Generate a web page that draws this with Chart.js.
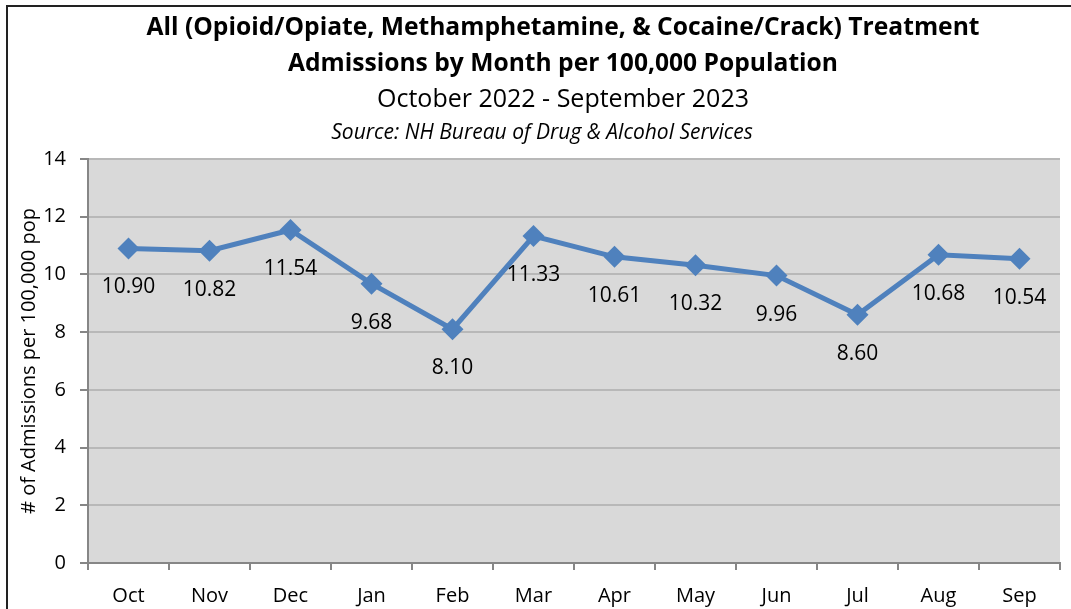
<!DOCTYPE html>
<html>
<head>
<meta charset="utf-8">
<script src="https://cdn.jsdelivr.net/npm/chart.js@4.4.0/dist/chart.umd.min.js"></script>
<style>
  html, body { margin: 0; padding: 0; background: #fff; }
  #wrap { width: 1071px; height: 609px; }
</style>
</head>
<body>
<div id="wrap"><canvas id="chartCanvas" width="1071" height="609"></canvas></div>
<script>
const months = ['Oct', 'Nov', 'Dec', 'Jan', 'Feb', 'Mar', 'Apr', 'May', 'Jun', 'Jul', 'Aug', 'Sep'];
const admissions = [10.90, 10.82, 11.54, 9.68, 8.10, 11.33, 10.61, 10.32, 9.96, 8.60, 10.68, 10.54];
const yTicks = [0, 2, 4, 6, 8, 10, 12, 14];

const titleLines = [
  'All (Opioid/Opiate, Methamphetamine, & Cocaine/Crack) Treatment',
  'Admissions by Month per 100,000 Population'
];
const subTitle = 'October 2022 - September 2023';
const sourceLine = 'Source: NH Bureau of Drug & Alcohol Services';

const FONT = '"Open Sans", "Noto Sans", sans-serif';

// frame, header text and plot fill
const backdrop = {
  id: 'backdrop',
  beforeDraw(c) {
    const ctx = c.ctx;
    const a = c.chartArea;
    ctx.save();
    ctx.fillStyle = '#fff';
    ctx.fillRect(0, 0, c.width, c.height);
    ctx.fillStyle = '#d9d9d9';
    ctx.fillRect(a.left, a.top, a.right - a.left, a.bottom - a.top);

    ctx.strokeStyle = '#222';
    ctx.lineWidth = 2;
    ctx.beginPath();
    ctx.moveTo(7, c.height);
    ctx.lineTo(7, 6);
    ctx.lineTo(c.width, 6);
    ctx.stroke();

    const cx = 563;
    ctx.fillStyle = '#000';
    ctx.textAlign = 'center';
    ctx.textBaseline = 'middle';
    ctx.font = 'bold 25px ' + FONT;
    ctx.fillText(titleLines[0], cx, 28, 833);
    ctx.fillText(titleLines[1], cx, 64, 550);
    ctx.font = '25px ' + FONT;
    ctx.fillText(subTitle, cx, 100, 382);
    ctx.font = 'italic 21px ' + FONT;
    ctx.fillText(sourceLine, 542, 133, 440);
    ctx.restore();
  }
};

// value labels under each point
const pointLabels = {
  id: 'pointLabels',
  afterDatasetsDraw(c) {
    const ctx = c.ctx;
    const meta = c.getDatasetMeta(0);
    ctx.save();
    ctx.fillStyle = '#000';
    ctx.font = '21px ' + FONT;
    ctx.textAlign = 'center';
    ctx.textBaseline = 'middle';
    meta.data.forEach((pt, i) => {
      ctx.fillText(admissions[i].toFixed(2), pt.x, pt.y + 39, 54);
    });
    ctx.restore();
  }
};

const ctx = document.getElementById('chartCanvas').getContext('2d');
const chart = new Chart(ctx, {
  type: 'line',
  data: {
    labels: months,
    datasets: [{
      data: admissions,
      borderColor: '#4f81bd',
      backgroundColor: '#4f81bd',
      borderWidth: 5,
      tension: 0,
      pointStyle: 'rectRot',
      pointRadius: 11,
      pointHoverRadius: 11,
      pointBorderWidth: 0
    }]
  },
  options: {
    responsive: false,
    animation: false,
    devicePixelRatio: 1,
    layout: { padding: { top: 159, left: 0, right: 8, bottom: 0 } },
    plugins: {
      legend: { display: false },
      tooltip: { enabled: false }
    },
    scales: {
      x: {
        offset: true,
        grid: {
          offset: true,
          drawOnChartArea: false,
          drawTicks: true,
          tickLength: 7,
          color: '#868686',
          lineWidth: 2
        },
        border: { color: '#868686', width: 2 },
        ticks: {
          color: '#000',
          font: { family: FONT, size: 20 },
          padding: 14,
          maxRotation: 0
        },
        afterFit(s) { s.height = 46; }
      },
      y: {
        min: 0,
        max: 14,
        afterBuildTicks(s) { s.ticks = yTicks.map(v => ({ value: v })); },
        grid: {
          color: '#b8b8b8',
          lineWidth: 2,
          tickLength: 8,
          tickColor: '#868686'
        },
        border: { color: '#868686', width: 2 },
        ticks: {
          color: '#000',
          font: { family: FONT, size: 20 },
          padding: 14
        },
        title: {
          display: true,
          text: '# of Admissions per 100,000 pop',
          color: '#000',
          font: { family: FONT, size: 20 },
          padding: { top: 17, bottom: 0 }
        },
        afterFit(s) { s.width = 88; }
      }
    }
  },
  plugins: [backdrop, pointLabels]
});
</script>
</body>
</html>
